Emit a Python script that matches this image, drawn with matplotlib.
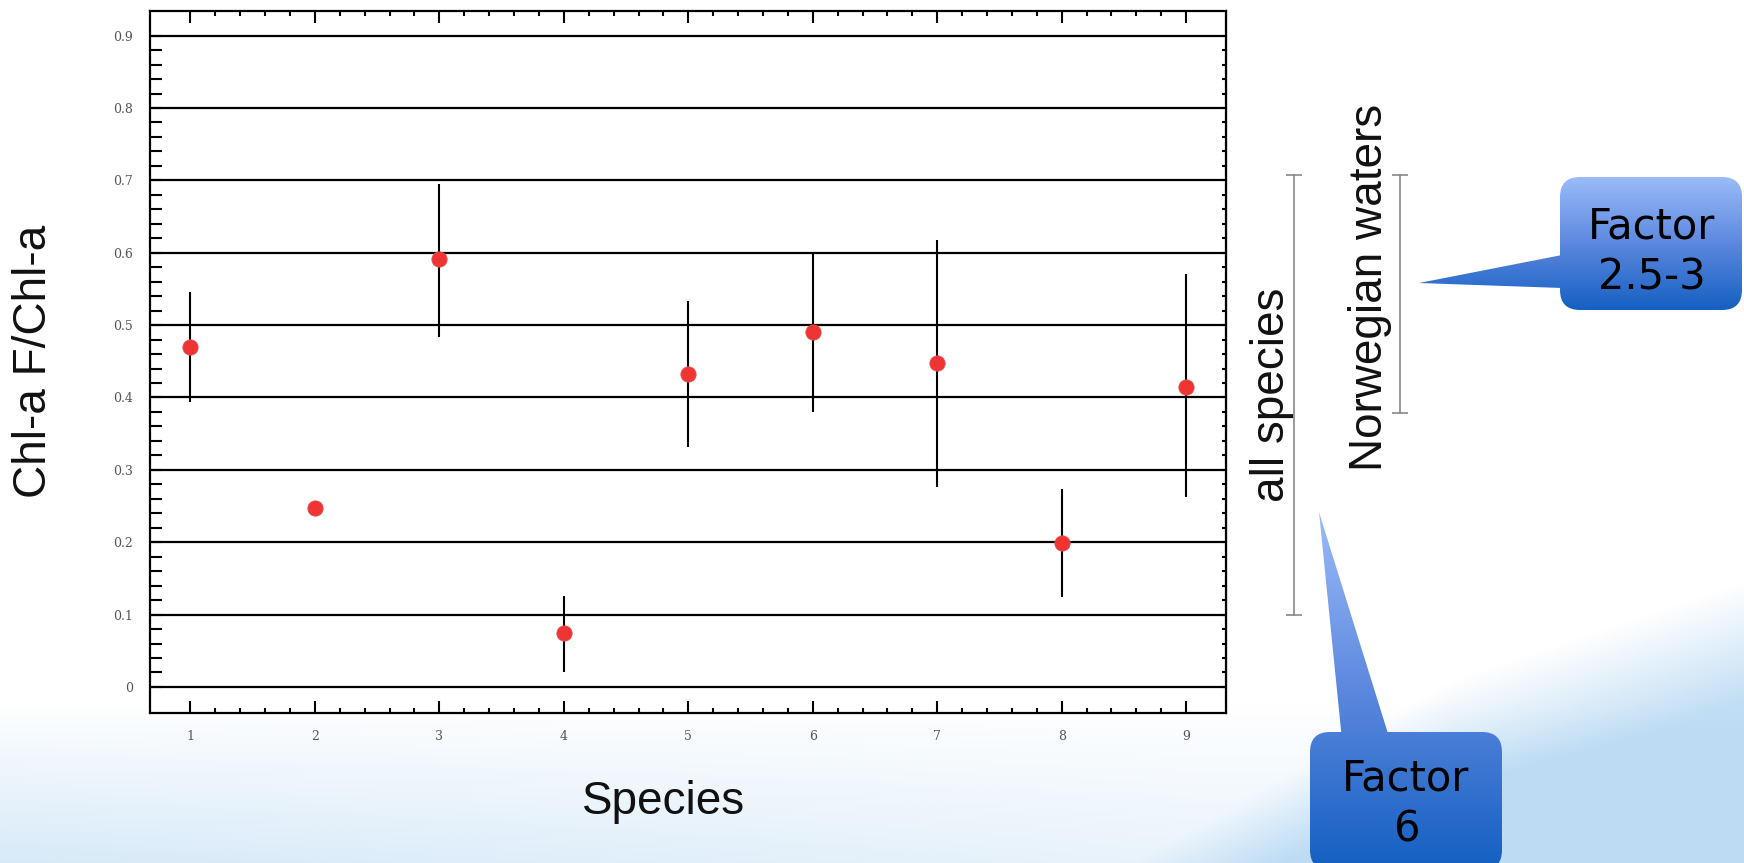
import numpy as np
import matplotlib.pyplot as plt
from matplotlib.patches import FancyBboxPatch, Polygon
from matplotlib.ticker import FixedLocator
from matplotlib.colors import LinearSegmentedColormap
import matplotlib.transforms as mtransforms

# values
species = [1, 2, 3, 4, 5, 6, 7, 8, 9]
ratio = [0.470, 0.247, 0.591, 0.074, 0.432, 0.490, 0.447, 0.199, 0.415]
err_low = [0.076, 0.0, 0.107, 0.053, 0.100, 0.110, 0.171, 0.075, 0.152]
err_high = [0.076, 0.0, 0.104, 0.051, 0.101, 0.110, 0.171, 0.074, 0.155]
yticks = [0, 0.1, 0.2, 0.3, 0.4, 0.5, 0.6, 0.7, 0.8, 0.9]
ytick_labels = ['0', '0.1', '0.2', '0.3', '0.4', '0.5', '0.6', '0.7', '0.8', '0.9']
range_all = [0.100, 0.707]        # "all species"
range_norway = [0.378, 0.707]     # "Norwegian waters"

W, H = 1744, 863
fig = plt.figure(figsize=(W / 100, H / 100), dpi=100, facecolor='white')

def fx(x):
    return x / W

def fy(y):
    return 1 - y / H

# background wash (slide decoration)
bg = fig.add_axes([0, 0, 1, 1], zorder=-5)
bg.set_xlim(0, W)
bg.set_ylim(H, 0)
bg.axis('off')
yy, xx = np.mgrid[0:H, 0:W]
img = np.ones((H, W, 4))
img[..., 0], img[..., 1], img[..., 2] = 0.70, 0.84, 0.95
wash = np.clip((yy - 700) / 170, 0, 1) * (0.55 - 0.25 * np.clip(xx / 1200, 0, 1))
curve = np.interp(xx, [1100, 1450, 1744], [880, 680, 580])
swoosh = np.clip((yy - curve) / 120, 0, 1) * 0.8
img[..., 3] = np.clip(wash + swoosh, 0, 0.85)
bg.imshow(img, extent=(0, W, H, 0), aspect='auto')

# main axes
ax = fig.add_axes([fx(150), fy(713), fx(1226 - 150), (713 - 11) / H])
ax.set_facecolor('white')
ax.errorbar(species, ratio, yerr=[err_low, err_high], fmt='none',
            ecolor='black', elinewidth=1.5, capsize=0, zorder=3)
ax.plot(species, ratio, 'o', color='#f03434', markeredgecolor='#e05050',
        markeredgewidth=0.6, markersize=11, zorder=4)

ax.set_xlim(0.675, 9.32)
ax.set_ylim(-0.036, 0.934)
ax.set_xticks(species)
ax.set_xticklabels([str(s) for s in species])
ax.set_yticks(yticks)
ax.set_yticklabels(ytick_labels)
ax.xaxis.set_minor_locator(FixedLocator([v for v in np.arange(1, 9.01, 0.2)
                                         if abs(v - round(v)) > 0.01]))
ax.yaxis.set_minor_locator(FixedLocator([v for v in np.arange(0, 0.901, 0.02)
                                         if abs(v * 10 - round(v * 10)) > 0.01]))
ax.yaxis.grid(True, which='major', color='black', linewidth=1.6)
ax.set_axisbelow(False)
for s in ax.spines.values():
    s.set_linewidth(1.6)

ax.tick_params(direction='in', which='both', top=True, right=False,
               width=1.5, colors='black', labelcolor='#555555',
               labelsize=9)
ax.tick_params(axis='x', which='major', length=8.6, pad=12)
ax.tick_params(axis='x', which='minor', length=3.6)
ax.tick_params(axis='y', which='both', length=8.6, pad=12)
for lab in ax.get_xticklabels() + ax.get_yticklabels():
    lab.set_family('DejaVu Serif')

sec = ax.secondary_yaxis('right')
sec.set_yticks(yticks)
sec.yaxis.set_minor_locator(FixedLocator([v for v in np.arange(0, 0.901, 0.02)
                                          if abs(v * 10 - round(v * 10)) > 0.01]))
sec.tick_params(direction='in', which='both', length=3, width=1.5,
                labelright=False)

fig.text(fx(34), fy(361), 'Chl-a F/Chl-a', rotation=90, ha='center', va='center',
         fontsize=33, family='Liberation Sans', color='#111111')
fig.text(fx(664), fy(802), 'Species', ha='center', va='center',
         fontsize=33, family='Liberation Sans', color='#111111')

# range brackets on the right
trans = mtransforms.blended_transform_factory(fig.transFigure, ax.transData)
ax.plot([fx(1294), fx(1294)], range_all, color='#888888', lw=1.2,
        marker='_', markersize=11, markeredgewidth=1.2,
        transform=trans, clip_on=False)
ax.plot([fx(1400), fx(1400)], range_norway, color='#888888', lw=1.2,
        marker='_', markersize=11, markeredgewidth=1.2,
        transform=trans, clip_on=False)
fig.text(fx(1272), fy(395), 'all species', rotation=90, ha='center', va='center',
         fontsize=33, family='Liberation Sans', color='#111111')
fig.text(fx(1370), fy(287), 'Norwegian waters', rotation=90, ha='center',
         va='center', fontsize=33, family='Liberation Sans', color='#111111')

# callouts
ov = fig.add_axes([0, 0, 1, 1], zorder=10)
ov.set_xlim(0, W)
ov.set_ylim(H, 0)
ov.axis('off')
blue = LinearSegmentedColormap.from_list('callout', ['#9bbcf8', '#5c88de', '#1560c2'])
grad = np.linspace(0, 1, 256).reshape(-1, 1)


def callout(box, tip, gy, text, tx, ty):
    x0, y0, x1, y1 = box
    shapes = [FancyBboxPatch((x0, y0), x1 - x0, y1 - y0,
                             boxstyle='round,pad=0,rounding_size=20'),
              Polygon(tip, closed=True)]
    for p in shapes:
        p.set_facecolor('none')
        p.set_edgecolor('none')
        ov.add_patch(p)
        im = ov.imshow(grad, extent=(0, W, gy[1], gy[0]), cmap=blue,
                       aspect='auto', zorder=1)
        im.set_clip_path(p)
    ov.text(tx, ty, text, ha='center', va='center', fontsize=30,
            family='DejaVu Sans', color='black', linespacing=1.25, zorder=3)


callout((1560, 177, 1742, 310), [(1562, 255), (1419, 283), (1562, 288)],
        (177, 310), 'Factor\n2.5-3', 1652, 252)
callout((1310, 732, 1502, 870), [(1319, 512), (1342, 740), (1390, 740)],
        (512, 866), 'Factor\n6', 1406, 804)

ov.set_xlim(0, W)
ov.set_ylim(H, 0)

fig.savefig('out.png', dpi=100, facecolor='white')
